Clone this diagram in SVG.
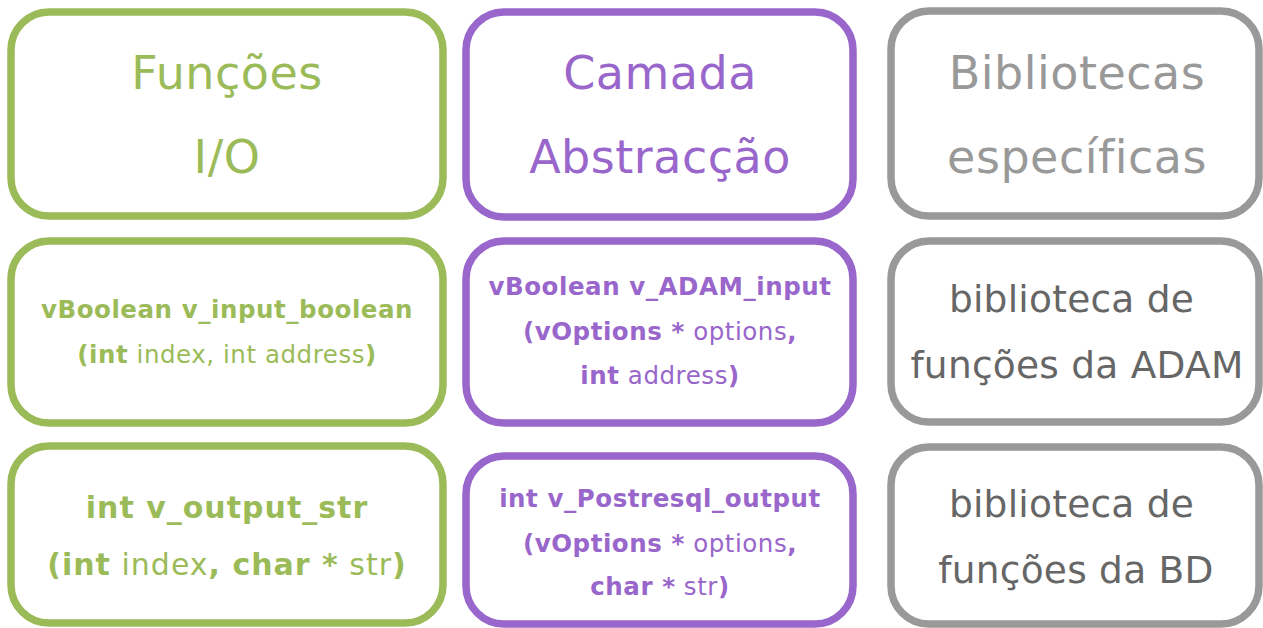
<svg xmlns="http://www.w3.org/2000/svg" width="1263" height="628" viewBox="0 0 1263 628">
<style>
.box{fill:#FFFFFF;stroke-width:7.5}
.g{stroke:#9BBB59}
.p{stroke:#9966CB}
.k{stroke:#999999}
text{font-family:"DejaVu Sans","Noto Sans",sans-serif;text-anchor:middle}
.tg{fill:#9BBB59}
.tp{fill:#9966CB}
.tk{fill:#999999}
.td{fill:#666666}
.h{font-size:46px;letter-spacing:0.5px}
.s{font-size:24.5px;letter-spacing:0.55px}
.m{font-size:30px;letter-spacing:1px}
.l{font-size:37.5px;letter-spacing:0.25px}
.b{font-weight:bold}
</style>
<rect width="1263" height="628" fill="#FFFFFF"/>
<g id="connectors"></g>
<g id="funcoes-io">
<rect class="box g" x="11" y="12" width="432" height="204" rx="38"/>
<text class="h tg" x="227" y="89">Funções</text>
<text class="h tg" x="227" y="173">I/O</text>
</g>
<g id="camada-abstraccao">
<rect class="box p" x="466" y="12" width="387" height="205" rx="38"/>
<text class="h tp" x="660" y="89">Camada</text>
<text class="h tp" x="660" y="173">Abstracção</text>
</g>
<g id="bibliotecas-especificas">
<rect class="box k" x="891" y="11" width="368" height="205" rx="38"/>
<text class="h tk" x="1077" y="89">Bibliotecas</text>
<text class="h tk" x="1077" y="173">específicas</text>
</g>
<g id="v-input-boolean">
<rect class="box g" x="11" y="241" width="432" height="182" rx="38"/>
<text class="s tg b" x="227" y="318">vBoolean v_input_boolean</text>
<text class="s tg" x="227" y="363"><tspan class="b">(int</tspan> index, int address<tspan class="b">)</tspan></text>
</g>
<g id="v-adam-input">
<rect class="box p" x="466" y="241" width="387" height="182" rx="38"/>
<text class="s tp b" x="660" y="295">vBoolean v_ADAM_input</text>
<text class="s tp" x="660" y="340"><tspan class="b">(vOptions *</tspan> options<tspan class="b">,</tspan></text>
<text class="s tp" x="660" y="384"><tspan class="b">int</tspan> address<tspan class="b">)</tspan></text>
</g>
<g id="biblioteca-adam">
<rect class="box k" x="891" y="241" width="368" height="181" rx="38"/>
<text class="l td" x="1071.5" y="312">biblioteca de</text>
<text class="l td" x="1077" y="378">funções da ADAM</text>
</g>
<g id="v-output-str">
<rect class="box g" x="11" y="446" width="432" height="177" rx="38"/>
<text class="m tg b" x="227" y="518">int v_output_str</text>
<text class="m tg" x="227" y="575"><tspan class="b">(int</tspan> index<tspan class="b">, char *</tspan> str<tspan class="b">)</tspan></text>
</g>
<g id="v-postresql-output">
<rect class="box p" x="466" y="456" width="387" height="168" rx="38"/>
<text class="s tp b" x="660" y="507">int v_Postresql_output</text>
<text class="s tp" x="660" y="552"><tspan class="b">(vOptions *</tspan> options<tspan class="b">,</tspan></text>
<text class="s tp" x="660" y="595"><tspan class="b">char *</tspan> str<tspan class="b">)</tspan></text>
</g>
<g id="biblioteca-bd">
<rect class="box k" x="891" y="447" width="368" height="177" rx="38"/>
<text class="l td" x="1071.5" y="517">biblioteca de</text>
<text class="l td" x="1076" y="583">funções da BD</text>
</g>
</svg>
